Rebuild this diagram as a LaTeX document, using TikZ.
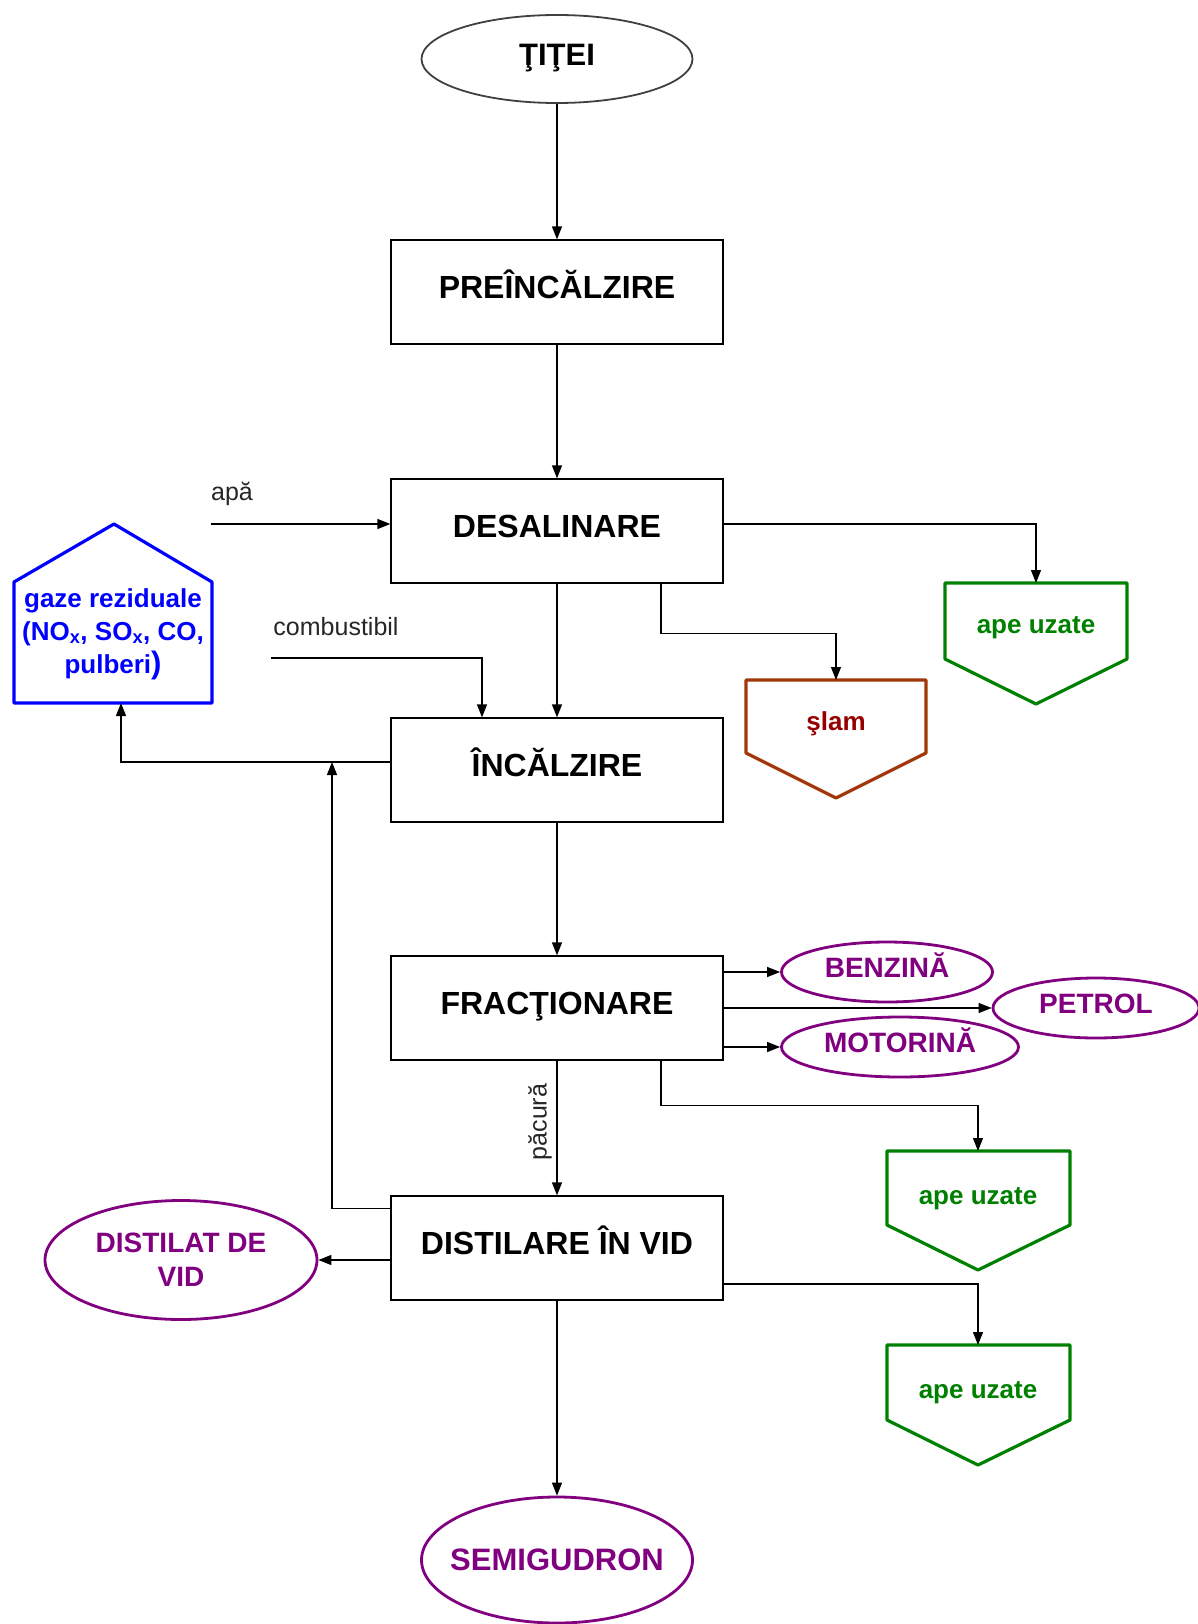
\documentclass[tikz,border=0pt]{standalone}
\usepackage{fontspec}
\setmainfont{Liberation Sans}
\usetikzlibrary{arrows.meta,shapes.geometric,calc}

\definecolor{prodviolet}{RGB}{128,0,128}
\definecolor{wastegreen}{RGB}{0,128,0}
\definecolor{sludgerim}{RGB}{160,55,10}
\definecolor{sludgetext}{RGB}{150,0,0}
\definecolor{gasblue}{RGB}{0,0,255}

\tikzset{
  stagebox/.style={draw, line width=1.3pt, minimum width=332pt, minimum height=104pt,
    inner sep=0pt, font=\fontsize{32}{38}\selectfont\bfseries,
    text height=25pt, text depth=12pt},
  product/.style={ellipse, draw=prodviolet, line width=2.8pt, text=prodviolet,
    inner sep=0pt, font=\fontsize{28}{34}\selectfont\bfseries, align=center},
  oneline/.style={text height=22pt, text depth=12pt},
  flow/.style={line width=1.3pt, -{Triangle[length=13pt,width=10pt]}},
  wasterim/.style={line width=3.2pt, line join=round},
  wastetext/.style={font=\fontsize{26}{33}\selectfont\bfseries, align=center},
  note/.style={font=\fontsize{25}{30}\selectfont, text=black!85}
}

\begin{document}
\begin{tikzpicture}[x=1pt, y=-1pt]
\useasboundingbox (0,0) rectangle (1198,1624);

% raw material
\node[ellipse, draw=black!75, line width=1.8pt, minimum width=271pt, minimum height=88pt,
      inner sep=0pt, font=\fontsize{31}{36}\selectfont\bfseries,
      text height=24pt, text depth=10pt] (titei) at (557,59) {ŢIŢEI};

% process stages
\node[stagebox] (prein)  at (557,292)  {PREÎNCĂLZIRE};
\node[stagebox] (desal)  at (557,531)  {DESALINARE};
\node[stagebox] (incalz) at (557,770)  {ÎNCĂLZIRE};
\node[stagebox] (frac)   at (557,1008) {FRACŢIONARE};
\node[stagebox] (dist)   at (557,1248) {DISTILARE ÎN VID};

% products
\node[product, oneline, minimum width=211pt, minimum height=60pt] (benz) at (887,972)  {BENZINĂ};
\node[product, oneline, minimum width=206pt, minimum height=60pt] (petr) at (1096,1008) {PETROL};
\node[product, oneline, minimum width=237pt, minimum height=60pt] (moto) at (900,1047) {\makebox[0pt]{MOTORINĂ}};
\node[product, minimum width=272pt, minimum height=119pt] (distv) at (181,1260) {DISTILAT DE\\VID};
\node[product, minimum width=271pt, minimum height=126pt,
      font=\fontsize{31}{36}\selectfont\bfseries] (semi) at (557,1560) {\makebox[0pt]{SEMIGUDRON}};

% waste streams (pentagon outlines)
\draw[wasterim, draw=gasblue] (14,582) -- (114,524) -- (212,582) -- (212,703) -- (14,703) -- cycle;
\coordinate (gazebot) at (121,703);
\node[wastetext, text=gasblue] (gaze) at (113,634)
  {gaze reziduale\\(NO\textsubscript{x}, SO\textsubscript{x}, CO,\\pulberi{\fontsize{31}{33}\selectfont )}};

\draw[wasterim, draw=wastegreen] (945,583) -- (1127,583) -- (1127,659) -- (1036,704) -- (945,659) -- cycle;
\coordinate (au1top) at (1036,583);
\node[wastetext, text=wastegreen] (au1) at (1036,628) {ape uzate};

\draw[wasterim, draw=sludgerim] (746,680) -- (926,680) -- (926,753) -- (836,798) -- (746,753) -- cycle;
\coordinate (slamtop) at (836,680);
\node[wastetext, text=sludgetext] (slam) at (836,724) {şlam};

\draw[wasterim, draw=wastegreen] (887,1151) -- (1070,1151) -- (1070,1225) -- (978,1270) -- (887,1225) -- cycle;
\coordinate (au2top) at (978,1151);
\node[wastetext, text=wastegreen] (au2) at (978,1199) {ape uzate};

\draw[wasterim, draw=wastegreen] (887,1345) -- (1070,1345) -- (1070,1420) -- (978,1465) -- (887,1420) -- cycle;
\coordinate (au3top) at (978,1345);
\node[wastetext, text=wastegreen] (au3) at (978,1393) {ape uzate};

% main line
\draw[flow] (titei.south) -- (prein.north);
\draw[flow] (prein.south) -- (desal.north);
\draw[flow] (desal.south) -- (incalz.north);
\draw[flow] (incalz.south) -- (frac.north);
\draw[flow] (frac.south) -- (dist.north);
\draw[flow] (dist.south) -- (semi.north);
\node[note, rotate=90] (pacura) at (540,1122) {păcură};

% inputs
\coordinate (apastart) at (211,524);
\node[note] (apa) at (232,494) {apă};
\draw[flow] (apastart) -- (apastart -| desal.west);

\coordinate (combstart) at (271,658);
\node[note] (comb) at (336,627) {combustibil};
\draw[flow] (combstart) -| ($(incalz.north)+(-75,0)$);

% flue gas and vacuum residue return
\coordinate (merge) at (332,762);
\draw[flow] ($(incalz.west)+(0,-8)$) -| (gazebot);
\draw[flow] ($(dist.north west)+(0,13)$) -| (merge);

% waste water and sludge
\draw[flow] ($(desal.east)+(0,-7)$) -| (au1top);
\draw[flow] ($(desal.south)+(104,0)$) -- ++(0,50) -| (slamtop);
\draw[flow] ($(frac.south)+(104,0)$) -- ++(0,45) -| (au2top);
\draw[flow] ($(dist.east)+(0,36)$) -| (au3top);

% fractions
\draw[flow] (frac.east |- benz.west) -- (benz.west);
\draw[flow] (frac.east |- petr.west) -- (petr.west);
\draw[flow] (frac.east |- moto.west) -- (moto.west);
\draw[flow] (dist.west |- distv.east) -- (distv.east);
\end{tikzpicture}
\end{document}
